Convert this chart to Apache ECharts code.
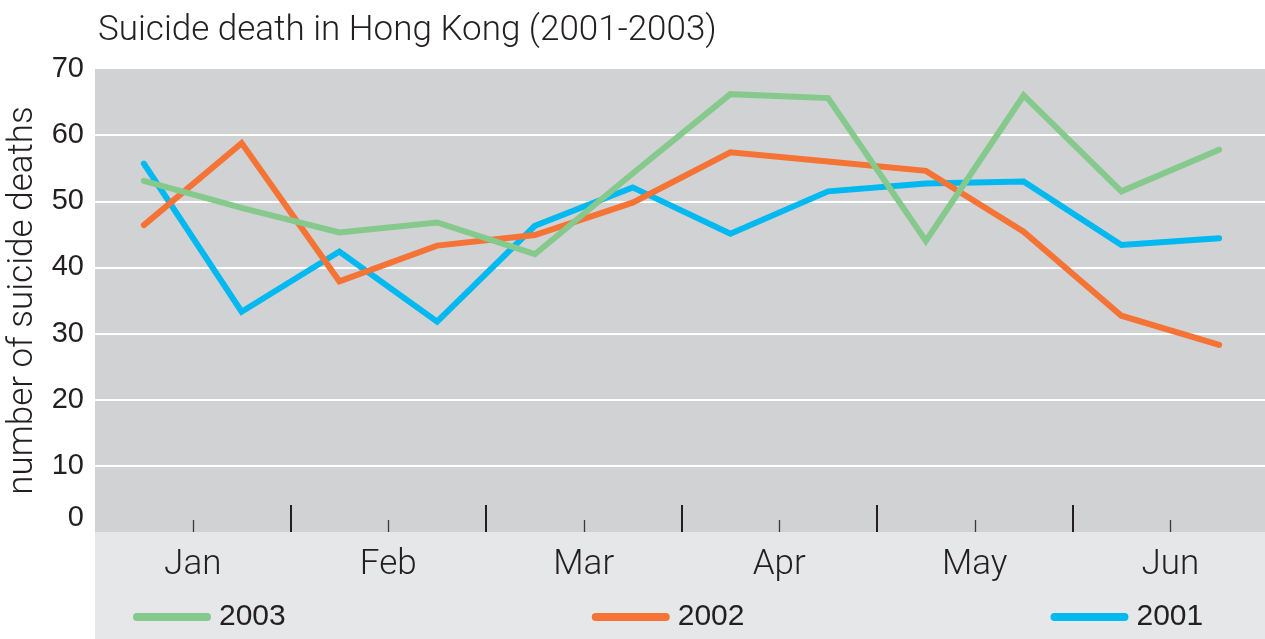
<!DOCTYPE html>
<html>
<head>
<meta charset="utf-8">
<script src="https://cdn.jsdelivr.net/npm/echarts@6/dist/echarts.min.js"></script>
<style>
html,body{margin:0;padding:0;background:#fff;}
#chart{width:1265px;height:639px;}
</style>
</head>
<body>
<div id="chart"></div>
<script>
// Data (half-month periods, Jan–Jun)
var halfMonths = ['Jan 1-15','Jan 16-31','Feb 1-14','Feb 15-28','Mar 1-15','Mar 16-31',
                  'Apr 1-15','Apr 16-30','May 1-15','May 16-31','Jun 1-15','Jun 16-30'];
var months = ['Jan','Feb','Mar','Apr','May','Jun'];
var seriesNames = ['2003','2002','2001'];
var data2003 = [53.1, 49.0, 45.3, 46.8, 42.0, 54.2, 66.2, 65.6, 44.0, 66.0, 51.5, 57.8];
var data2002 = [46.4, 58.8, 37.9, 43.3, 44.9, 49.8, 57.4, 56.0, 54.6, 45.4, 32.7, 28.3];
var data2001 = [55.7, 33.3, 42.4, 31.8, 46.3, 52.1, 45.1, 51.5, 52.7, 53.0, 43.4, 44.4];
var yMin = 0, yMax = 70, yStep = 10;

var colors = {'2003':'#86c98c','2002':'#f47335','2001':'#00b9f1'};
var txt = '#231f20';
var font = 'Liberation Sans';
var lightFont = 'Roboto';

var chart = echarts.init(document.getElementById('chart'), null, {renderer:'canvas'});
var pill = 'path://M4,0 L74,0 A4,4 0 0 1 74,8 L4,8 A4,4 0 0 1 4,0 Z';

function lineSeries(name, data) {
  return {
    name: name, type: 'line', data: data, xAxisIndex: 0, yAxisIndex: 0,
    showSymbol: false, symbol: 'none', animation: false,
    lineStyle: {color: colors[name], width: 6, cap: 'round', join: 'miter'},
    itemStyle: {color: colors[name]}
  };
}

chart.setOption({
  backgroundColor: '#ffffff',
  animation: false,
  title: {
    text: 'Suicide death in Hong Kong (2001-2003)',
    left: 93, top: 9,
    textStyle: {fontFamily: lightFont, fontSize: 35, fontWeight: 300, color: txt}
  },
  grid: [
    {left: 95, right: -3, top: 69, bottom: 107, show: true, backgroundColor: '#d1d2d4', borderWidth: 0, containLabel: false, outerBoundsMode: 'none'},
    {left: 95, right: 0, top: 532, bottom: 0, show: true, backgroundColor: '#e6e7e8', borderWidth: 0, outerBoundsMode: 'none'}
  ],
  legend: {
    data: seriesNames,
    left: 128, top: 597,
    itemWidth: 78, itemHeight: 8, itemGap: 306,
    icon: pill,
    textStyle: {fontFamily: font, fontSize: 30, color: txt, padding: [0, 0, 0, 3]}
  },
  xAxis: [
    {
      type: 'category', data: halfMonths, gridIndex: 0, boundaryGap: true,
      axisLine: {show: false}, axisTick: {show: false}, axisLabel: {show: false}, splitLine: {show: false}
    },
    {
      type: 'category', data: months, gridIndex: 0, position: 'bottom', boundaryGap: true,
      axisLine: {show: false},
      axisTick: {show: true, inside: true, alignWithLabel: true, length: 12, lineStyle: {color: '#3a3a3a', width: 1.3}},
      axisLabel: {show: true, margin: 16, fontFamily: lightFont, fontSize: 35, fontWeight: 300, color: txt},
      splitLine: {show: false}
    },
    {
      type: 'category', data: months, gridIndex: 0, position: 'bottom', boundaryGap: true,
      axisLine: {show: false},
      axisTick: {show: true, inside: true, length: 27, interval: function (i) { return i > 0; }, lineStyle: {color: '#231f20', width: 2}},
      axisLabel: {show: false},
      splitLine: {show: false}
    }
  ],
  yAxis: [{
    type: 'value', gridIndex: 0, min: yMin, max: yMax, interval: yStep,
    name: 'number of suicide deaths', nameLocation: 'middle', nameGap: 49, nameRotate: 90,
    nameTextStyle: {fontFamily: lightFont, fontSize: 35, fontWeight: 300, color: txt},
    axisLine: {show: false}, axisTick: {show: false},
    axisLabel: {
      margin: 11, fontFamily: font, fontSize: 29, color: txt,
      formatter: function (v) { return v === 0 ? '{z|0}' : String(v); },
      rich: {z: {fontFamily: font, fontSize: 29, color: txt, padding: [0, 0, 28, 0]}}
    },
    splitLine: {show: true, showMinLine: false, showMaxLine: false, lineStyle: {color: '#ffffff', width: 2}}
  }],
  series: [
    lineSeries('2001', data2001),
    lineSeries('2002', data2002),
    lineSeries('2003', data2003)
  ]
});
</script>
</body>
</html>
